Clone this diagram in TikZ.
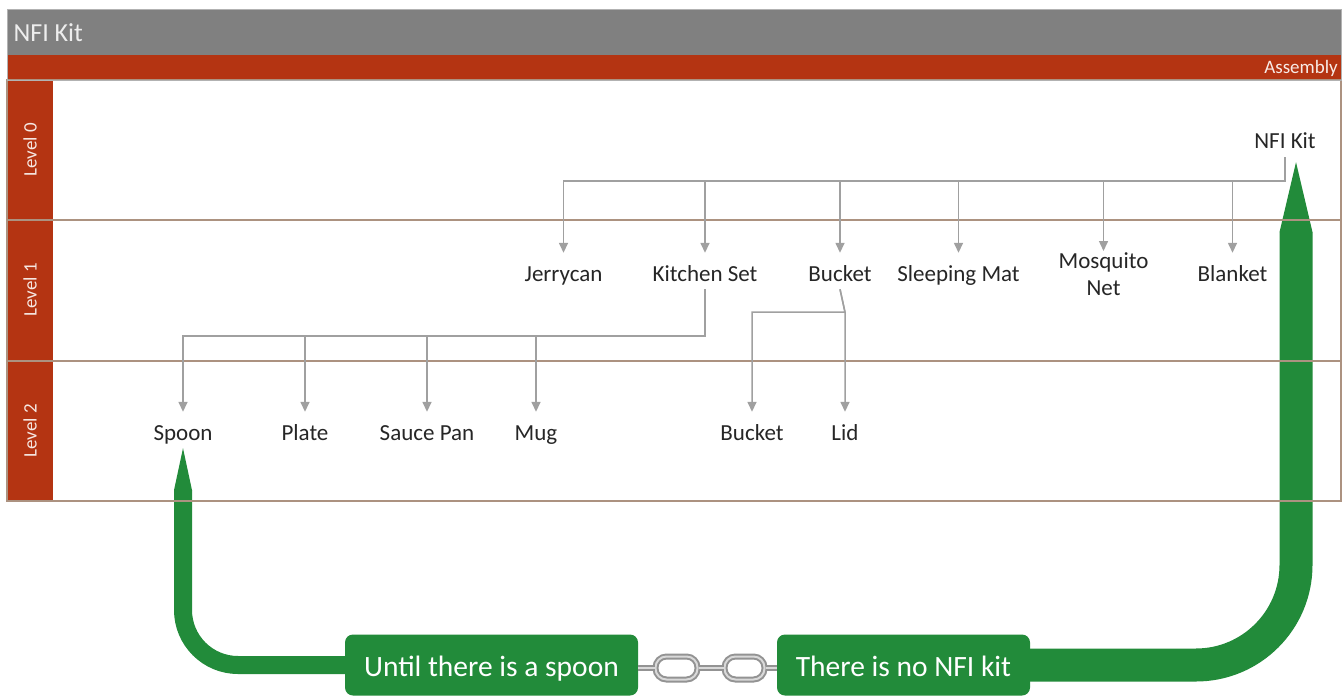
\documentclass[tikz,border=0pt]{standalone}
\usepackage{fontspec}
\setmainfont{Carlito}
\usetikzlibrary{arrows.meta}
\definecolor{kitred}{RGB}{180,52,18}
\definecolor{kitgreen}{RGB}{34,139,58}
\definecolor{lane}{RGB}{172,146,128}
\definecolor{conn}{RGB}{160,160,160}
\begin{document}
\begin{tikzpicture}[x=1pt,y=-1pt,
		item/.style={font=\fontsize{23}{27}\selectfont,text=black!85,anchor=base,inner sep=4pt,text height=16pt,text depth=4pt},
		lvl/.style={font=\fontsize{19}{22}\selectfont,text=white!88!kitred,rotate=90},
		tree/.style={draw=conn,line width=1.5pt,-{Triangle[length=10pt,width=9pt]}},
		goal/.style={fill=kitgreen,text=white,rounded corners=8pt,minimum height=61pt,font=\fontsize{29.5}{34}\selectfont,text height=22pt,text depth=0pt},
		ring/.style={draw=gray!85,double=gray!30,double distance=2pt,line width=2pt}]
		\fill[white] (0,0) rectangle (1343,698);
		\useasboundingbox (0,0) rectangle (1343,698);
		\fill[gray] (7,9) rectangle (1341,55);
		\fill[kitred] (7,55) rectangle (1341,80);
		\fill[kitred] (7,80) rectangle (53,501);
		\node[anchor=west,font=\fontsize{26}{30}\selectfont,text=white!93!black] (title) at (10,33) {NFI Kit};
		\node[anchor=base east,inner sep=2pt,font=\fontsize{19}{22}\selectfont,text=white!90!kitred] (assembly) at (1340,74) {Assembly};
		\node[lvl] (level0) at (30,150) {Level 0};
		\node[lvl] (level1) at (30,290) {Level 1};
		\node[lvl] (level2) at (30,431) {Level 2};

		\node[item] (nfikit) at (1285,149) {NFI Kit};
		\node[item] (jerry) at (563.5,281) {Jerrycan};
		\node[item] (kitchen) at (705,281) {Kitchen Set};
		\node[item] (bucket) at (840,281) {Bucket};
		\node[item] (mat) at (958.5,281) {Sleeping Mat};
		\node[item,anchor=north,align=center,inner ysep=0pt,text height={},text depth={}] (net) at (1103.5,252) {Mosquito\\Net};
		\node[item] (blanket) at (1232.5,281) {Blanket};
		\node[item] (spoon) at (183,440) {Spoon};
		\node[item] (plate) at (305,440) {Plate};
		\node[item] (pan) at (427,440) {Sauce Pan};
		\node[item] (mug) at (536,440) {Mug};
		\node[item] (pail) at (752,440) {Bucket};
		\node[item] (lid) at (845,440) {Lid};

		\node[goal,minimum width=293pt] (spoonbox) at (491.5,665) {Until there is a spoon};
		\node[goal,minimum width=253pt] (nokitbox) at (903.5,665) {There is no NFI kit};
		\node[ring,fill=white,rounded corners=11pt,minimum width=42pt,minimum height=23pt,inner sep=0pt] (link1) at (676.5,668) {};
		\node[ring,fill=white,rounded corners=11pt,minimum width=40pt,minimum height=23pt,inner sep=0pt] (link2) at (744.5,668) {};
		\draw[ring] (spoonbox.east |- link1.west) -- (link1.west);
		\draw[ring] (link1.east) -- (link2.west);
		\draw[ring] (link2.east) -- (link2.east -| nokitbox.west);

		\draw[kitgreen,line width=18pt,rounded corners=55pt,-{Triangle[length=42pt,width=18pt,line width=0pt]}] (spoonbox.west) -| (spoon.south);
		\draw[kitgreen,line width=33pt,rounded corners=100pt,-{Triangle[length=70pt,width=33pt,line width=0pt]},shorten >=5pt] (nokitbox.east) -| ([xshift=11pt]nfikit.south);

		\draw[lane,line width=1.2pt] (7,220) -- (1341,220) (7,361) -- (1341,361);
		\draw[lane,line width=1.2pt] (7,80) rectangle (1341,501);
		\draw[gray!60,line width=0.8pt] (7,9) rectangle (1341,80);

		\foreach \c/\s in {jerry/8,kitchen/8,bucket/8,mat/8,net/1,blanket/8}
			\draw[tree,shorten >=\s pt] (nfikit.south) -- ++(0,24) -| (\c.north);
		\foreach \c in {spoon,plate,pan,mug}
			\draw[tree,shorten >=8pt] (kitchen.south) -- ++(0,47) -| (\c.north);
		\draw[tree,shorten >=8pt] (bucket.south) -- ++(5,23) -| (pail.north);
		\draw[tree,shorten >=8pt] (bucket.south) -- ++(5,23) -- (lid.north);
	\end{tikzpicture}
\end{document}
